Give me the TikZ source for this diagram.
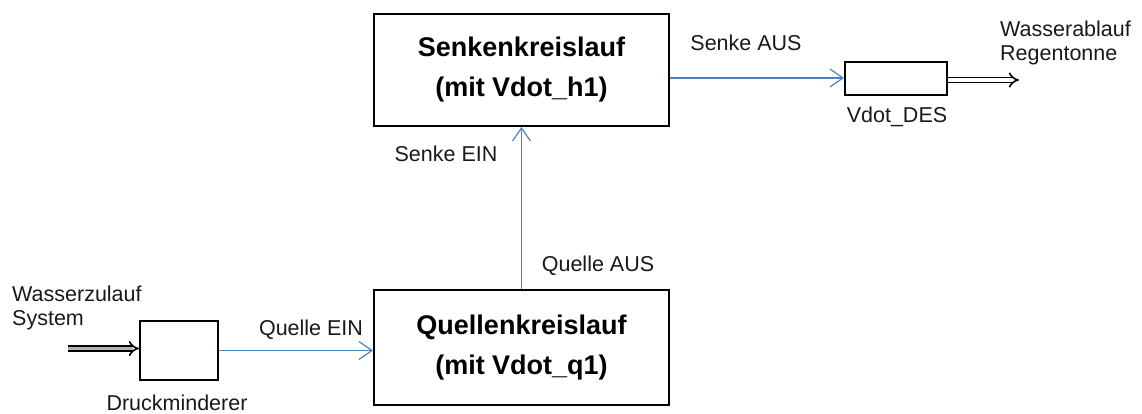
\documentclass[tikz,border=0pt]{standalone}
\usepackage{fontspec}
\setmainfont{Liberation Sans}
\usetikzlibrary{arrows.meta}
\definecolor{flowblue}{HTML}{4F81BD}
\tikzset{
  mainbox/.style={draw=black, line width=2pt, minimum width=295pt, inner sep=0pt,
    align=center, font=\fontsize{27}{40}\selectfont\bfseries},
  smallbox/.style={draw=black, line width=2pt, inner sep=0pt},
  lbl/.style={font=\fontsize{21.5}{24}\selectfont, inner sep=0pt, text=black!90},
  flow/.style={draw=flowblue, line width=1.2pt, -{Straight Barb[length=13pt,width=18pt,line width=1.2pt]}},
  pipe/.style={draw=black, double=#1, double distance=3.5pt, line width=1.6pt, -{Implies}},
}
\begin{document}
\begin{tikzpicture}[x=1pt,y=-1pt]
\useasboundingbox (0,0) rectangle (1142,413);
\node[mainbox, minimum height=112pt] (senk) at (521.5,70) {Senkenkreislauf\\(mit Vdot\_h1)};
\node[mainbox, minimum height=115pt] (quell) at (521.5,347.5) {Quellenkreislauf\\(mit Vdot\_q1)};
\node[smallbox, minimum width=78pt, minimum height=59pt] (druck) at (179,350.5) {};
\node[smallbox, minimum width=102pt, minimum height=33pt] (des) at (896,78) {};
\coordinate (zulauf) at (68,348.5);
\coordinate (ablauf) at (1019,80);
% connectors
\draw[flow] (quell.north) -- (senk.south);
\draw[flow] (senk.east |- des.west) -- (des.west);
\draw[flow] (druck.east) -- (druck.east -| quell.west);
\draw[pipe=black!30] (zulauf) -- (zulauf -| druck.west);
\draw[pipe=white] (des.east |- ablauf) -- (ablauf);
% labels
\node[lbl] (lsa) at (746,43) {Senke AUS};
\node[lbl, anchor=west, align=left] (lwa) at (1000,43) {Wasserablauf\\Regentonne};
\node[lbl] (ldes) at (897,117) {Vdot\_DES};
\node[lbl] (lse) at (446,154) {Senke EIN};
\node[lbl] (lqa) at (598,266) {Quelle AUS};
\node[lbl, anchor=west, align=left] (lwz) at (12,308) {Wasserzulauf\\System};
\node[lbl] (lqe) at (311,330) {Quelle EIN};
\node[lbl] (ldr) at (177,403) {Druckminderer};
\end{tikzpicture}
\end{document}
